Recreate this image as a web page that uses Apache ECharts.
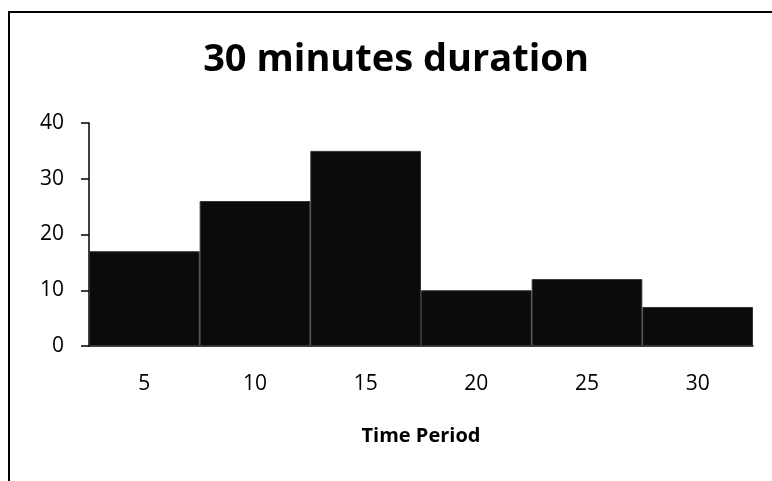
<!DOCTYPE html>
<html>
<head>
<meta charset="utf-8">
<script src="https://cdn.jsdelivr.net/npm/echarts@6/dist/echarts.min.js"></script>
<style>
  html, body { margin: 0; padding: 0; background: #fff; }
  #chart { width: 772px; height: 481px; }
</style>
</head>
<body>
<div id="chart"></div>
<script>
// Time periods (minutes) and counts per period
const periods = ['5', '10', '15', '20', '25', '30'];
const counts = [17, 26, 35, 10, 12, 7];
const yTicks = [0, 10, 20, 30, 40];

const FONT = '"Open Sans", "Noto Sans", sans-serif';

const chart = echarts.init(document.getElementById('chart'), null, { renderer: 'canvas' });

chart.setOption({
  backgroundColor: '#ffffff',
  animation: false,
  title: {
    text: '30 minutes duration',
    left: 391,
    top: 36,
    textAlign: 'center',
    textStyle: { fontFamily: FONT, fontWeight: 'bold', fontSize: 38, color: '#000' }
  },
  graphic: [
    {
      type: 'polyline',
      shape: { points: [[9, 481], [9, 12], [772, 12]] },
      style: { stroke: '#000', lineWidth: 2, fill: null },
      silent: true
    }
  ],
  grid: { left: 89, right: 19, top: 123, bottom: 135 },
  xAxis: {
    type: 'category',
    data: periods,
    name: 'Time Period',
    nameLocation: 'middle',
    nameGap: 80,
    nameTextStyle: { fontFamily: FONT, fontWeight: 'bold', fontSize: 20, color: '#000' },
    axisLine: { show: true, lineStyle: { color: '#000', width: 1.5 } },
    axisTick: { show: false },
    axisLabel: { margin: 28, fontFamily: FONT, fontSize: 21, color: '#000' }
  },
  yAxis: {
    type: 'value',
    min: yTicks[0],
    max: yTicks[yTicks.length - 1],
    interval: 10,
    splitLine: { show: false },
    axisLine: { show: true, lineStyle: { color: '#000', width: 1.5 } },
    axisTick: { show: true, inside: false, length: 8, lineStyle: { color: '#000', width: 1.5 } },
    axisLabel: { margin: 25, fontFamily: FONT, fontSize: 21, color: '#000' }
  },
  series: [
    {
      type: 'bar',
      data: counts,
      barCategoryGap: 0,
      itemStyle: { color: '#0b0b0b', borderColor: '#333', borderWidth: 1 }
    }
  ]
});
</script>
</body>
</html>
